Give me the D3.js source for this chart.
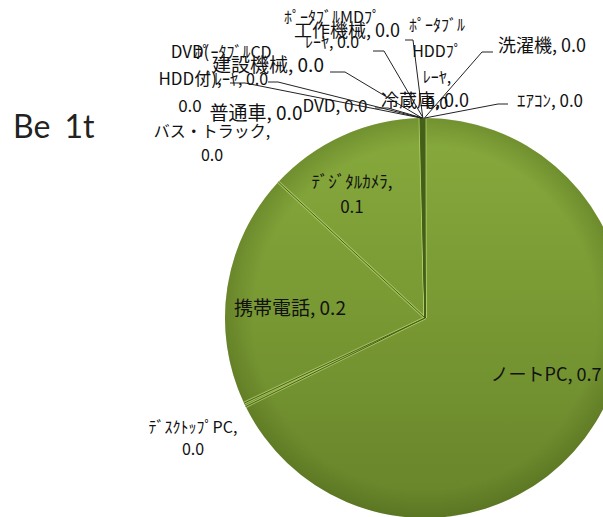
<!DOCTYPE html>
<html>
<head>
<meta charset="utf-8">
<script src="https://cdn.jsdelivr.net/npm/d3@7"></script>
<style>
  body { margin: 0; background: #fff; }
  text { font-family: "Noto Sans CJK JP", "Noto Sans", sans-serif; fill: #111; }
</style>
</head>
<body>
<svg id="pie"></svg>
<script>
const categories = ["ノートPC", "ﾃﾞｽｸﾄｯﾌﾟPC", "携帯電話", "ﾃﾞｼﾞﾀﾙｶﾒﾗ", "バス・トラック", "普通車",
  "DVD(HDD付)", "ﾎﾟｰﾀﾌﾞﾙCDﾌﾟﾚｰﾔ", "建設機械", "DVD", "工作機械", "ﾎﾟｰﾀﾌﾞﾙMDﾌﾟﾚｰﾔ",
  "冷蔵庫", "ﾎﾟｰﾀﾌﾞﾙHDDﾌﾟﾚｰﾔ", "洗濯機", "ｴｱｺﾝ"];
const values = [0.677, 0.003, 0.189, 0.127, 0.0004, 0.0004, 0.0003, 0.0003,
  0.0004, 0.0003, 0.0003, 0.0003, 0.0004, 0.0003, 0.0003, 0.0003];
const title = "Be 1t";

// where each label wraps (break after these pieces, in order)
const labelBreaks = [[], [", "], [], [", "], [", "], [], ["(", ", "], ["CD"], [], [], [], ["MDﾌﾟ"],
  [], ["ﾙ", "ﾌﾟ", ", "], [], []];

// label layout: centre x, first baseline, line gap, font size
const labelPos = [[546, 381], [193, 433], [290, 315], [352, 188], [212, 137], [256, 120],
  [190, 58], [233, 58], [268, 72], [335, 112], [347, 37], [332, 23],
  [425, 107], [437, 31], [542, 52], [550, 107]];
const labelGap = [0, 22, 0, 25, 24, 0, 27, 27, 0, 0, 0, 25, 0, 26, 0, 0];
const labelSize = [18, 16, 19, 17, 16, 19, 17, 16, 19, 17, 18, 16, 18, 16, 18, 17];
// short horizontal piece of the leader next to the label: [x label side, y, x pie side]
const leaderStub = [null, null, null, null, null, null,
  [230, 83, 245], [268, 82, 278], [330, 72, 345], [375, 108, 388], [405, 40, 413], [373, 51, 384],
  null, null, [493, 52, 482], [508, 104, 498]];

const W = 603, H = 517;
const cx = 425, cy = 318, r = 200;
const fmt = d3.format(".1f");

const svg = d3.select("#pie").attr("width", W).attr("height", H);
const defs = svg.append("defs");

// gradient runs top to bottom of the pie, in the pie group's coords
const grad = defs.append("linearGradient").attr("id", "fillG")
  .attr("gradientUnits", "userSpaceOnUse")
  .attr("x1", 0).attr("y1", -r).attr("x2", 0).attr("y2", r);
grad.append("stop").attr("offset", 0).attr("stop-color", "#87aa3d");
grad.append("stop").attr("offset", 0.5).attr("stop-color", "#789833");
grad.append("stop").attr("offset", 1).attr("stop-color", "#67842a");

const edge = defs.append("radialGradient").attr("id", "edgeG");
edge.append("stop").attr("offset", 0.86).attr("stop-color", "#3c5210").attr("stop-opacity", 0);
edge.append("stop").attr("offset", 1).attr("stop-color", "#3c5210").attr("stop-opacity", 0.28);

const pie = d3.pie().sort(null).value(d => d);
const arcs = pie(values);
const arc = d3.arc().innerRadius(0).outerRadius(r);

const g = svg.append("g").attr("transform", `translate(${cx},${cy})`);

g.selectAll("path.slice")
  .data(arcs)
  .enter().append("path")
  .attr("class", "slice")
  .attr("d", arc)
  .attr("fill", "url(#fillG)");

g.append("circle").attr("r", r).attr("fill", "url(#edgeG)");

// bevelled slice borders
const borders = arcs.map(d => d3.pointRadial(d.startAngle, r));
g.selectAll("line.hi")
  .data(borders)
  .enter().append("line")
  .attr("class", "hi")
  .attr("x1", 0).attr("y1", 0)
  .attr("x2", d => d[0]).attr("y2", d => d[1])
  .attr("stroke", "#b0cc66").attr("stroke-width", 3).attr("stroke-opacity", 0.8);
g.selectAll("line.dk")
  .data(borders)
  .enter().append("line")
  .attr("class", "dk")
  .attr("x1", 0).attr("y1", 0)
  .attr("x2", d => d[0]).attr("y2", d => d[1])
  .attr("stroke", "#45601a").attr("stroke-width", 1);

// leader lines
const line = d3.line();
arcs.forEach((d, i) => {
  const s = leaderStub[i];
  if (!s) return;
  const p = d3.pointRadial((d.startAngle + d.endAngle) / 2, r);
  svg.append("path")
    .attr("d", line([[s[0], s[1]], [s[2], s[1]], [cx + p[0], cy + p[1]]]))
    .attr("fill", "none")
    .attr("stroke", "#222")
    .attr("stroke-width", 1);
});

function splitLabel(text, breaks) {
  const lines = [];
  let pos = 0;
  breaks.forEach(b => {
    const k = text.indexOf(b, pos) + b.length;
    lines.push(text.slice(pos, k).trim());
    pos = k;
  });
  lines.push(text.slice(pos).trim());
  return lines;
}

categories.forEach((c, i) => {
  const lines = splitLabel(c + ", " + fmt(values[i]), labelBreaks[i]);
  const t = svg.append("text")
    .attr("text-anchor", "middle")
    .attr("font-size", labelSize[i]);
  lines.forEach((l, j) => {
    t.append("tspan")
      .attr("x", labelPos[i][0])
      .attr("y", labelPos[i][1] + j * labelGap[i])
      .text(l);
  });
});

svg.append("text")
  .attr("x", 13).attr("y", 138)
  .attr("font-size", 32)
  .style("font-family", "Lato, 'Open Sans', sans-serif")
  .style("word-spacing", "6px")
  .style("fill", "#222")
  .text(title);
</script>
</body>
</html>
